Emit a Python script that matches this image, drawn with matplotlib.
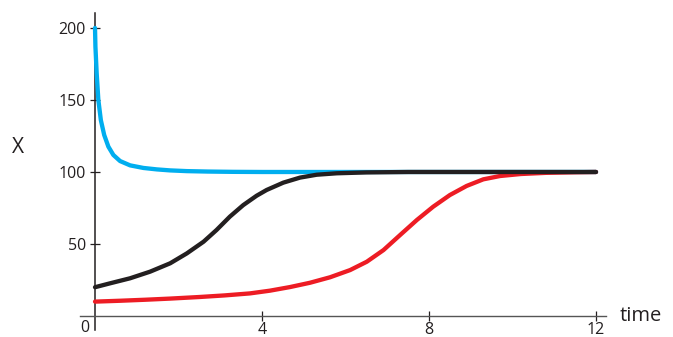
import numpy as np
import matplotlib.pyplot as plt

plt.rcParams['font.family'] = ['Open Sans', 'DejaVu Sans']

# values
blue_t = [0, 0.01, 0.04, 0.08, 0.14, 0.22, 0.32, 0.44, 0.6, 0.84, 1.16, 1.48, 1.8,
          2.2, 2.7, 3.3, 4.0, 12]
blue_x = [200, 187, 168.5, 150, 136, 125.7, 117.6, 111.8, 107.6, 104.6, 102.8, 101.8, 101.1,
          100.6, 100.3, 100.1, 100, 100]

black_t = [0, 0.36, 0.84, 1.32, 1.8, 2.2, 2.6, 2.91, 3.23, 3.55, 3.87, 4.11, 4.51,
           4.91, 5.31, 5.79, 6.5, 7.5, 12]
black_x = [20, 22.7, 26.2, 30.8, 36.6, 43.5, 51.6, 59.7, 69, 77, 83.5, 87.5, 92.6,
           96.1, 98.1, 99.1, 99.7, 100, 100]

red_t = [0, 0.6, 1.2, 1.8, 2.5, 3.1, 3.71, 4.19, 4.67, 5.15, 5.63, 6.11, 6.51, 6.91,
         7.31, 7.71, 8.1, 8.5, 8.9, 9.3, 9.7, 10.2, 10.8, 11.5, 12]
red_x = [10, 10.6, 11.3, 12.1, 13.2, 14.3, 15.7, 17.6, 20.1, 23.1, 26.9, 31.9, 37.7, 45.8,
         56.3, 66.7, 75.9, 84, 90.3, 94.9, 97.2, 98.6, 99.4, 99.8, 100]

xticks = [4, 8, 12]
yticks = [50, 100, 150, 200]

fig = plt.figure(figsize=(6.73, 3.37), dpi=100)
ax = fig.add_axes([0.1189, 0.0208, 0.7816, 0.9407])

ax.plot(blue_t, blue_x, color='#00aeef', lw=3.1, solid_capstyle='round',
        solid_joinstyle='round', zorder=3)
ax.plot(red_t, red_x, color='#ed1c24', lw=3.1, solid_capstyle='round',
        solid_joinstyle='round', zorder=4)
ax.plot(black_t, black_x, color='#231f20', lw=3.1, solid_capstyle='round',
        solid_joinstyle='round', zorder=5)

ax.set_xlim(-0.359, 12.24)
ax.set_ylim(-9.7, 210.4)

for s in ['top', 'right']:
    ax.spines[s].set_visible(False)
ax.spines['left'].set_position(('data', 0))
ax.spines['bottom'].set_position(('data', 0))
ax.spines['left'].set_color('#231f20')
ax.spines['bottom'].set_color('#555555')
ax.spines['left'].set_linewidth(1.1)
ax.spines['bottom'].set_linewidth(1.0)

ax.set_xticks(xticks)
ax.set_yticks(yticks)
ax.tick_params(direction='inout', length=7, width=0.9, color='#231f20',
               labelsize=11.5, labelcolor='#231f20')
ax.tick_params(axis='y', pad=3)
ax.tick_params(axis='x', pad=1)

ax.text(-0.24, -2.8, '0', ha='center', va='top', fontsize=11.5, color='#231f20')
fig.text(18 / 673, 1 - 147 / 337, 'X', ha='center', va='center', fontsize=15, color='#231f20')
fig.text(620 / 673, 1 - 316 / 337, 'time', ha='left', va='center', fontsize=14.5, color='#231f20')

fig.savefig('out.png', dpi=100)
